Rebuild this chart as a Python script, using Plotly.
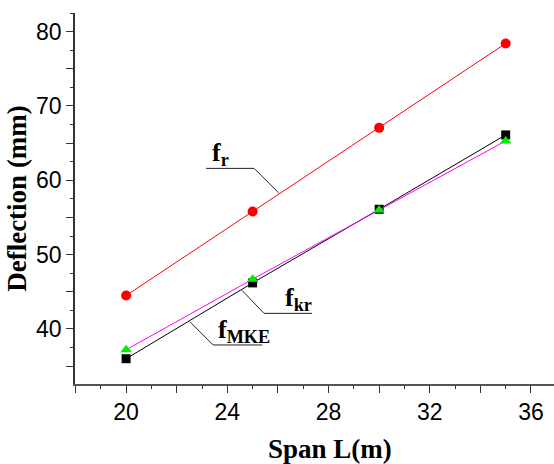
import plotly.graph_objects as go

span = [20, 25, 30, 35]
f_r = [44.5, 55.8, 67.05, 78.4]
f_kr = [36.0, 46.2, 56.1, 66.1]
f_mke = [37.2, 46.7, 56.0, 65.3]

x_ticks = [18, 20, 22, 24, 26, 28, 30, 32, 34, 36]
x_labels = ["", "20", "", "24", "", "28", "", "32", "", "36"]
y_ticks = [35, 40, 45, 50, 55, 60, 65, 70, 75, 80]
y_labels = ["", "40", "", "50", "", "60", "", "70", "", "80"]

fig = go.Figure()
fig.add_trace(go.Scatter(x=span, y=f_r, mode="lines+markers", name="f_r",
                         line=dict(color="#ff0000", width=1),
                         marker=dict(symbol="circle", size=10, color="#ff0000")))
fig.add_trace(go.Scatter(x=span, y=f_kr, mode="lines+markers", name="f_kr",
                         line=dict(color="#000000", width=1),
                         marker=dict(symbol="square", size=9, color="#000000")))
fig.add_trace(go.Scatter(x=span, y=f_mke, mode="lines+markers", name="f_MKE",
                         line=dict(color="#ff00ff", width=1),
                         marker=dict(symbol="triangle-up", size=10, color="#00ee00")))

serif = "Liberation Serif"
lab_font = dict(family=serif, size=26, color="black")

# leader lines (data coords)
leaders = [
    [(23.16, 61.6), (25.06, 61.6), (26.03, 58.3)],
    [(24.58, 45.2), (25.45, 42.1), (27.35, 42.1)],
    [(22.53, 40.95), (23.44, 37.85), (25.38, 37.85)],
]
for pts in leaders:
    for (x0, y0), (x1, y1) in zip(pts[:-1], pts[1:]):
        fig.add_shape(type="line", x0=x0, y0=y0, x1=x1, y1=y1, xref="x", yref="y",
                      line=dict(color="#222222", width=1))

fig.add_annotation(x=23.3, y=61.6, text="<b>f<sub>r</sub></b>", showarrow=False,
                   xanchor="left", yanchor="bottom", font=lab_font, yshift=-4)
fig.add_annotation(x=26.2, y=42.1, text="<b>f<sub>kr</sub></b>", showarrow=False,
                   xanchor="left", yanchor="bottom", font=lab_font, yshift=-4)
fig.add_annotation(x=23.55, y=37.85, text="<b>f<sub>MKE</sub></b>", showarrow=False,
                   xanchor="left", yanchor="bottom", font=lab_font, yshift=-4)

# x-axis title (placed as annotation to match reference offset)
fig.add_annotation(x=330, y=449, xref="paper", yref="paper", text="<b>Span L(m)</b>",
                   showarrow=False, xanchor="center", yanchor="middle",
                   font=dict(family=serif, size=27, color="black"))

fig.update_layout(
    width=554, height=464,
    margin=dict(l=75, r=0, t=13, b=80),
    paper_bgcolor="white", plot_bgcolor="white",
    showlegend=False,
    xaxis=dict(range=[17.98, 36.91], tickmode="array", tickvals=x_ticks, ticktext=x_labels,
               ticks="outside", ticklen=7, tickwidth=1, tickcolor="#333",
               minor=dict(dtick=1, tick0=0, ticks="outside", ticklen=3, tickcolor="#333"),
               showline=True, linecolor="#555", linewidth=1.5, showgrid=False, zeroline=False,
               tickfont=dict(family="Liberation Sans", size=23, color="black")),
    yaxis=dict(range=[32.6, 82.5], tickmode="array", tickvals=y_ticks, ticktext=y_labels,
               ticks="outside", ticklen=7, tickwidth=1, tickcolor="#333",
               minor=dict(dtick=2.5, tick0=0, ticks="outside", ticklen=3, tickcolor="#333"),
               showline=True, linecolor="#333", linewidth=1.5, showgrid=False, zeroline=False,
               tickfont=dict(family="Liberation Sans", size=23, color="black"),
               title=dict(text="<b>Deflection (mm)</b>", font=dict(family=serif, size=27, color="black"),
                          standoff=2)),
)

# convert paper-pixel placement of x title into paper fractions
ann = fig.layout.annotations[-1]
ann.x = (330 - 75) / (554 - 75)
ann.y = -(449 - 384) / (384 - 13)

fig.write_html("out.html")
